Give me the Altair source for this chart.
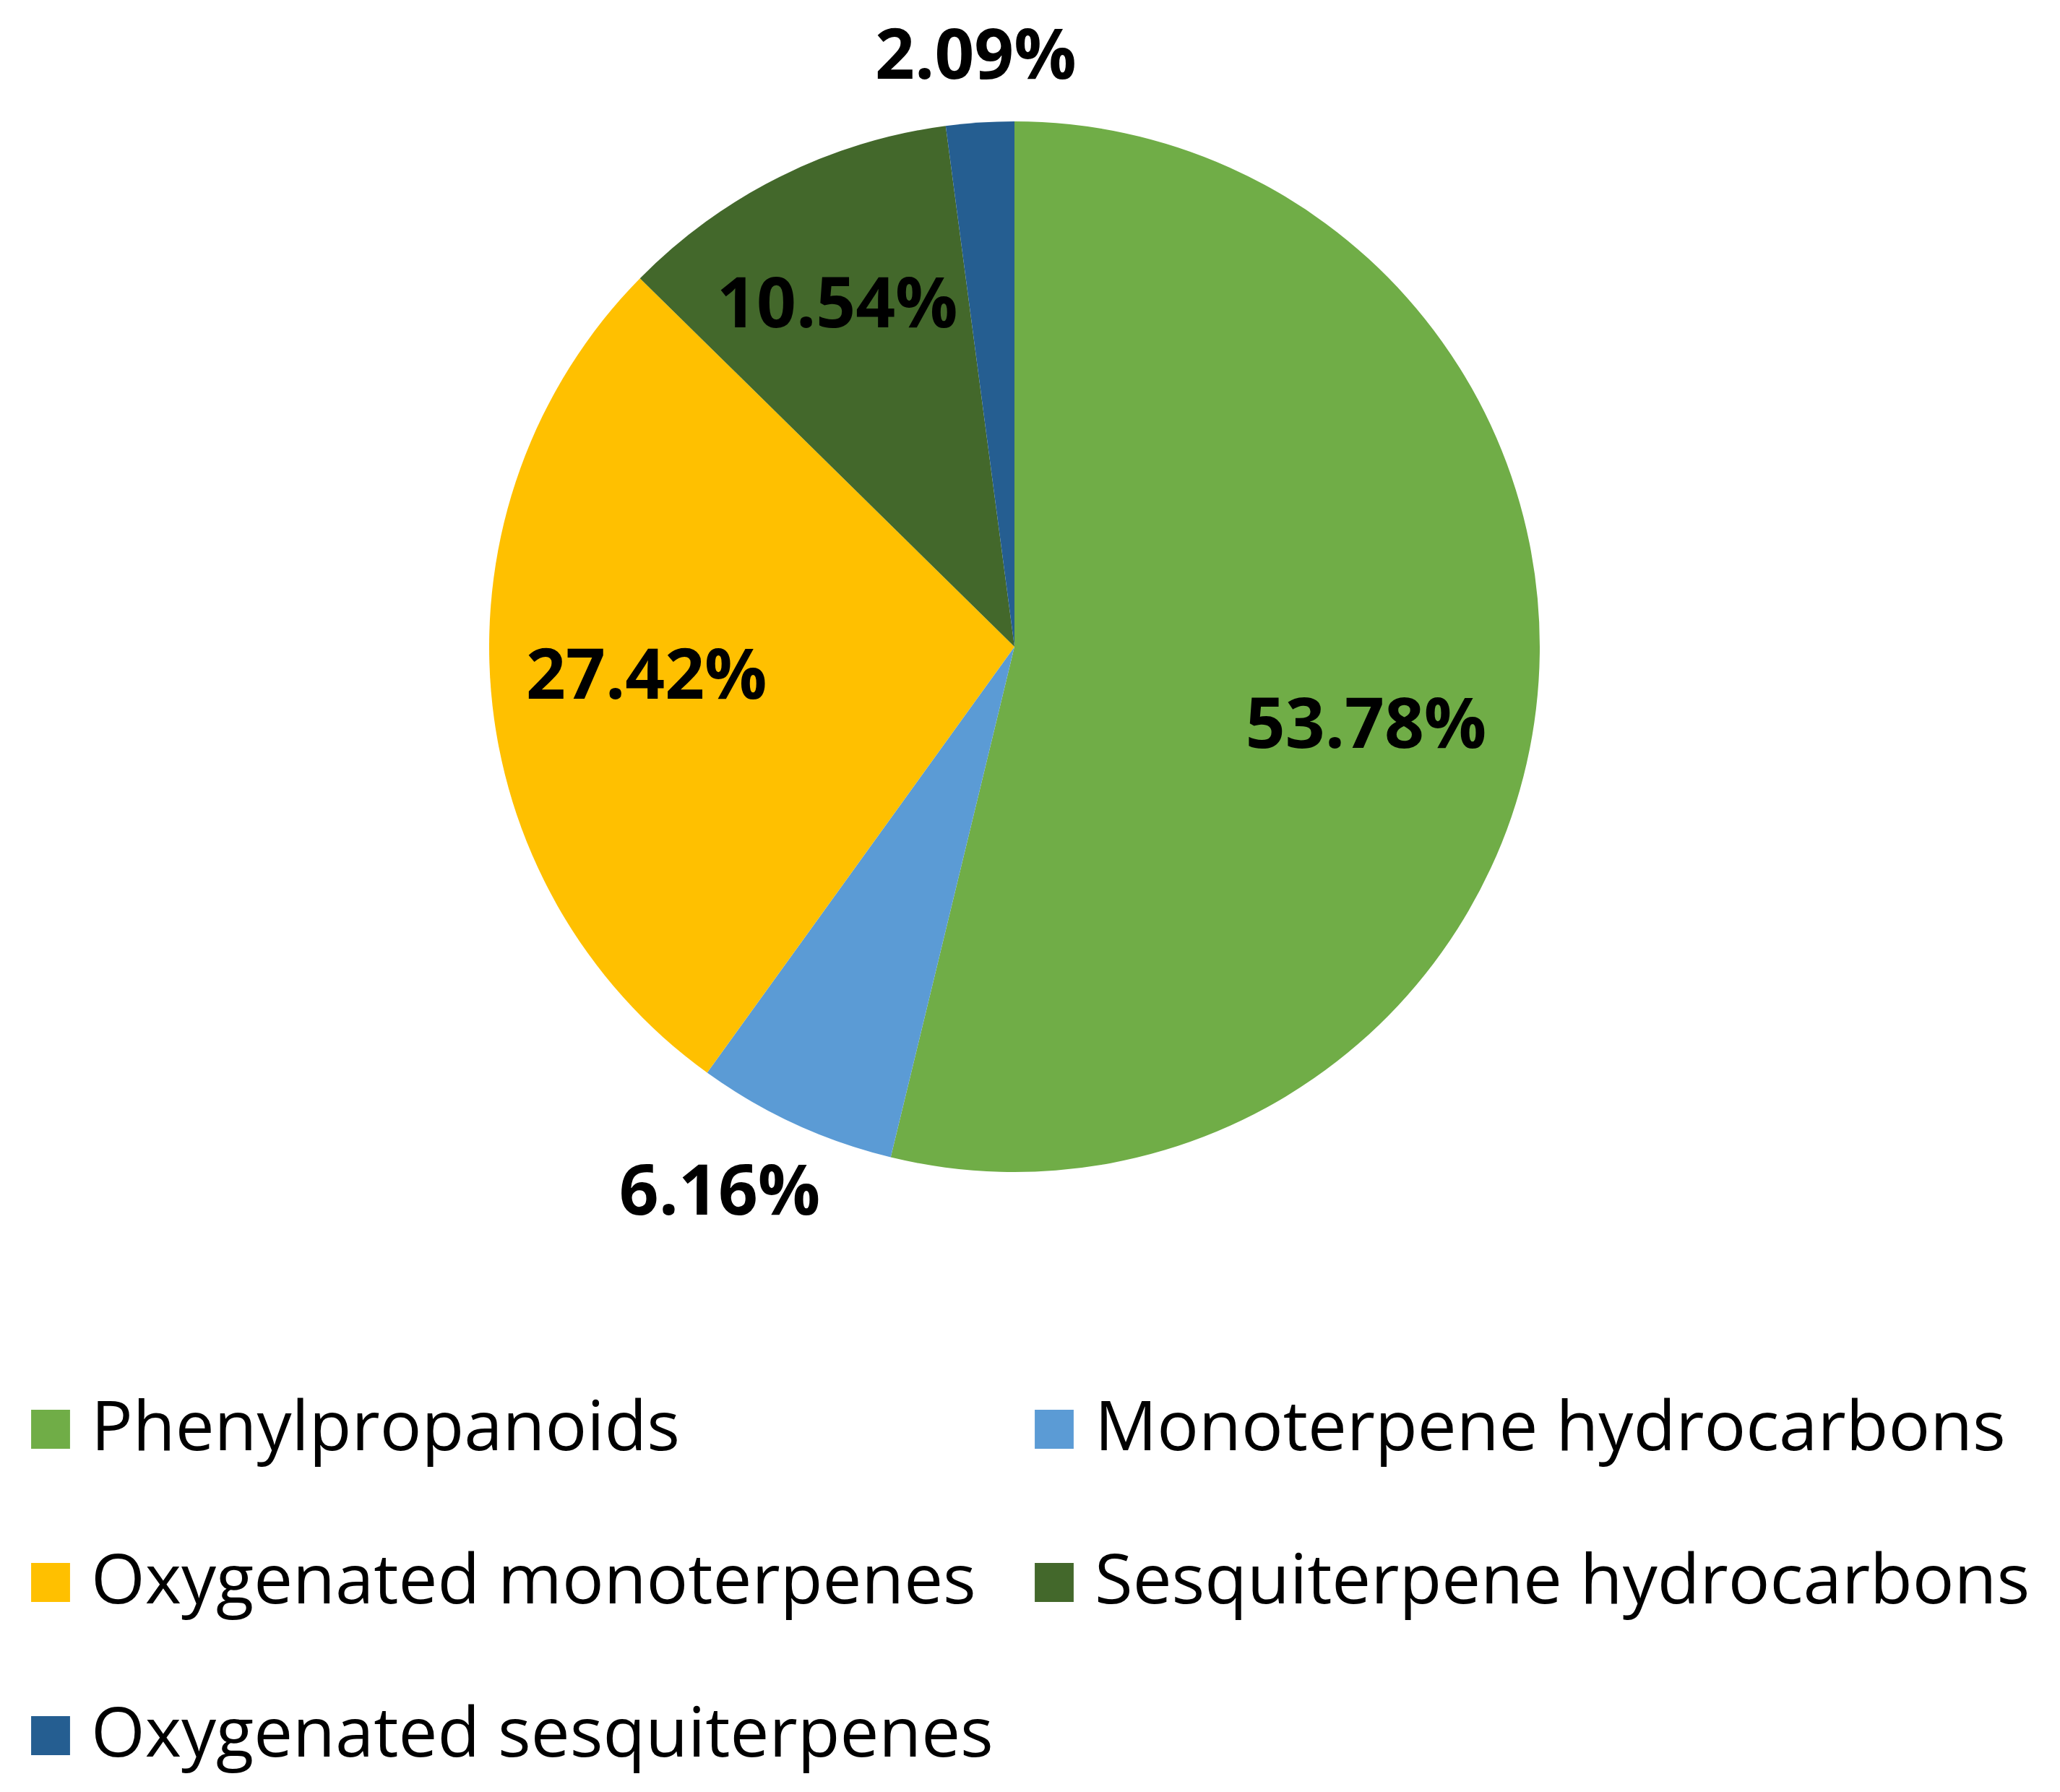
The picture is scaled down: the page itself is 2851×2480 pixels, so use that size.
import math
import altair as alt
import pandas as pd

categories = [
    "Phenylpropanoids",
    "Monoterpene hydrocarbons",
    "Oxygenated monoterpenes",
    "Sesquiterpene hydrocarbons",
    "Oxygenated sesquiterpenes",
]
shares = [53.78, 6.16, 27.42, 10.54, 2.09]
colors = ["#70AD47", "#5B9BD5", "#FFC000", "#43682B", "#255E91"]

df = pd.DataFrame({"category": categories, "share": shares, "order": list(range(len(categories)))})
total = float(sum(shares))
theta_scale = alt.Scale(domain=[0, total])

pie = alt.Chart(df).mark_arc(outerRadius=727).encode(
    theta=alt.Theta("share:Q", stack=True, scale=theta_scale),
    order=alt.Order("order:Q"),
    color=alt.Color(
        "category:N",
        scale=alt.Scale(domain=categories, range=colors),
        sort=categories,
        legend=alt.Legend(
            title=None,
            orient="none",
            legendX=14,
            legendY=1902,
            direction="horizontal",
            columns=2,
            columnPadding=36,
            rowPadding=116,
            symbolType="square",
            symbolSize=2900,
            symbolStrokeWidth=0,
            labelFont="Open Sans",
            labelFontSize=96,
            labelColor="#000000",
            labelOffset=8,
            labelLimit=3000,
            padding=0,
        ),
    ),
)

text_style = dict(font="Open Sans", fontWeight="bold", fontSize=96, color="#000000",
                  align="center", baseline="middle")


def label_layer(cat, radius, offset_deg):
    return (
        alt.Chart(df)
        .transform_window(cum="sum(share)", sort=[alt.SortField("order")], frame=[None, 0])
        .transform_calculate(
            mid="datum.cum - datum.share / 2",
            lbl="format(datum.share, '.2f') + '%'",
        )
        .transform_filter(alt.datum.category == cat)
        .mark_text(radius=radius, thetaOffset=math.radians(offset_deg), **text_style)
        .encode(theta=alt.Theta("mid:Q", scale=theta_scale), text="lbl:N")
    )


labels = [
    label_layer("Phenylpropanoids", 499, 6.0),
    label_layer("Monoterpene hydrocarbons", 860, 3.6),
    label_layer("Oxygenated monoterpenes", 511, 0.0),
    label_layer("Sesquiterpene hydrocarbons", 531, -1.0),
    label_layer("Oxygenated sesquiterpenes", 817, 0.0),
]

chart = (
    alt.layer(pie, *labels)
    .resolve_scale(theta="independent")
    .properties(width=2792, height=1734,
                padding={"left": 0, "top": 20, "right": 0, "bottom": 30})
    .configure_view(stroke=None)
)

chart.save("out.html", embed_options={"renderer": "svg", "actions": False})
